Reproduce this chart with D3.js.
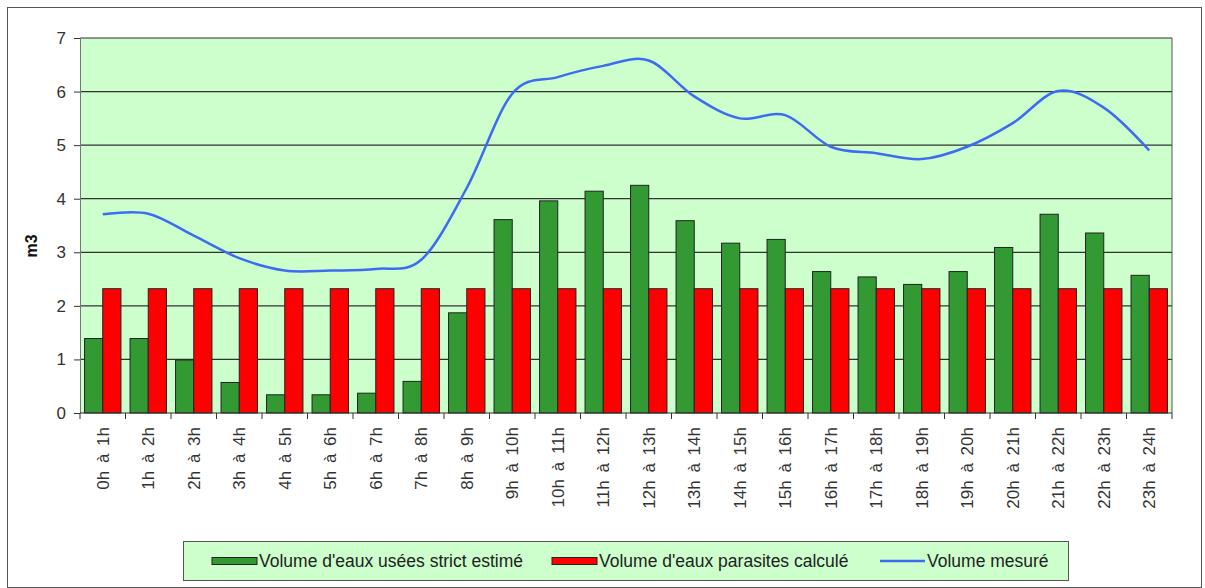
<!DOCTYPE html>
<html>
<head>
<meta charset="utf-8">
<script src="https://cdn.jsdelivr.net/npm/d3@7"></script>
<style>
  body { margin: 0; background: #fff; }
  svg { display: block; font-family: "Liberation Sans", Arial, sans-serif; }
</style>
</head>
<body>
<div id="vis"></div>
<script>
// hourly slots
const hours = ["0h à 1h","1h à 2h","2h à 3h","3h à 4h","4h à 5h","5h à 6h","6h à 7h","7h à 8h",
  "8h à 9h","9h à 10h","10h à 11h","11h à 12h","12h à 13h","13h à 14h","14h à 15h","15h à 16h",
  "16h à 17h","17h à 18h","18h à 19h","19h à 20h","20h à 21h","21h à 22h","22h à 23h","23h à 24h"];

// Volume d'eaux usées strict estimé
const usees = [1.39,1.39,0.99,0.57,0.34,0.34,0.37,0.59,1.87,3.61,3.96,4.14,4.25,3.59,3.17,3.24,
  2.64,2.54,2.40,2.64,3.09,3.71,3.36,2.57];
// Volume d'eaux parasites calculé
const parasites = [2.32,2.32,2.32,2.32,2.32,2.32,2.32,2.32,2.32,2.32,2.32,2.32,2.32,2.32,2.32,2.32,
  2.32,2.32,2.32,2.32,2.32,2.32,2.32,2.32];
// Volume mesuré
const mesure = [3.71,3.72,3.31,2.89,2.66,2.66,2.69,2.86,4.2,5.96,6.27,6.48,6.58,5.91,5.5,5.56,
  4.97,4.85,4.74,4.97,5.41,6.01,5.7,4.9];

const yTicks = [0,1,2,3,4,5,6,7];

const W = 1205, H = 588;
const margin = {top: 38, left: 80, right: 33, bottom: 175};
const width = W - margin.left - margin.right,
      height = H - margin.top - margin.bottom;

const root = d3.select("#vis").append("svg")
  .attr("width", W).attr("height", H);

// outer frame
root.append("rect")
  .attr("x", 7.5).attr("y", 7.5)
  .attr("width", 1194).attr("height", 580)
  .attr("fill", "#fff").attr("stroke", "#555").attr("stroke-width", 1);

const svg = root.append("g")
  .attr("transform", `translate(${margin.left},${margin.top})`);

const x = d3.scaleBand().domain(hours).range([0, width]).paddingInner(0).paddingOuter(0);
const x1 = d3.scaleBand().domain(["u","p"]).range([0, x.bandwidth()]).paddingInner(0).paddingOuter(0.25);
const y = d3.scaleLinear().domain([0, 7]).range([height, 0]);

// plot background
svg.append("rect")
  .attr("width", width).attr("height", height)
  .attr("fill", "#ccffcc");

// gridlines
svg.append("g")
  .selectAll("line")
  .data(yTicks.filter(d => d > 0))
  .join("line")
    .attr("x1", 0).attr("x2", width)
    .attr("y1", d => y(d)).attr("y2", d => y(d))
    .attr("stroke", "#333").attr("stroke-width", 1.2);

// right border
svg.append("line")
  .attr("x1", width).attr("x2", width)
  .attr("y1", 0).attr("y2", height)
  .attr("stroke", "#555");

// bars
const groups = svg.append("g")
  .selectAll("g")
  .data(hours)
  .join("g")
    .attr("transform", d => `translate(${x(d)},0)`);

groups.append("rect")
  .attr("x", x1("u"))
  .attr("y", (d, i) => y(usees[i]))
  .attr("width", x1.bandwidth())
  .attr("height", (d, i) => height - y(usees[i]))
  .attr("fill", "#339933").attr("stroke", "#222").attr("stroke-width", 1);

groups.append("rect")
  .attr("x", x1("p"))
  .attr("y", (d, i) => y(parasites[i]))
  .attr("width", x1.bandwidth())
  .attr("height", (d, i) => height - y(parasites[i]))
  .attr("fill", "#ff0000").attr("stroke", "#222").attr("stroke-width", 1);

// measured line, smoothed like the spreadsheet
svg.append("path")
  .datum(mesure)
  .attr("fill", "none")
  .attr("stroke", "#3d6cf0")
  .attr("stroke-width", 2.5)
  .attr("d", d3.line()
    .x((d, i) => x(hours[i]) + x.bandwidth() / 2)
    .y(d => y(d))
    .curve(d3.curveCardinal.tension(0)));

// y axis
const yAxis = svg.append("g")
  .call(d3.axisLeft(y).tickValues(yTicks).tickSize(6).tickPadding(8).tickFormat(d3.format("d")));
yAxis.select(".domain").attr("stroke", "#777");
yAxis.selectAll(".tick line").attr("stroke", "#333");
yAxis.selectAll("text").attr("fill", "#333").style("font-size", "17px")
  .style("font-family", "'Liberation Sans', Arial, sans-serif");

// x axis: ticks on category boundaries
const xAxis = svg.append("g")
  .attr("transform", `translate(0,${height})`);
xAxis.append("line")
  .attr("x1", 0).attr("x2", width)
  .attr("stroke", "#333").attr("stroke-width", 1.2);
xAxis.selectAll("line.tk")
  .data(d3.range(hours.length + 1))
  .join("line")
    .attr("class", "tk")
    .attr("x1", i => i * x.step()).attr("x2", i => i * x.step())
    .attr("y1", 0).attr("y2", 6)
    .attr("stroke", "#333");
xAxis.selectAll("text")
  .data(hours)
  .join("text")
    .attr("transform", d => `translate(${x(d) + x.bandwidth() / 2 + 6},14) rotate(-90)`)
    .attr("text-anchor", "end")
    .attr("fill", "#333")
    .style("font-size", "17px")
    .style("word-spacing", "3px")
    .text(d => d);

// y label
root.append("text")
  .attr("transform", "translate(37,246) rotate(-90)")
  .attr("text-anchor", "middle")
  .attr("fill", "#111")
  .style("font-size", "16px")
  .style("font-weight", "bold")
  .text("m3");

// legend
const legend = root.append("g");
legend.append("rect")
  .attr("x", 183.5).attr("y", 541.5)
  .attr("width", 885).attr("height", 39)
  .attr("fill", "#ccffcc").attr("stroke", "#555");

const legendItems = [
  {label: "Volume d'eaux usées strict estimé", type: "bar", color: "#339933", x: 212},
  {label: "Volume d'eaux parasites calculé", type: "bar", color: "#ff0000", x: 552},
  {label: "Volume mesuré", type: "line", color: "#3d6cf0", x: 880}
];
legendItems.forEach(it => {
  if (it.type === "bar") {
    legend.append("rect")
      .attr("x", it.x).attr("y", 557.5)
      .attr("width", 45).attr("height", 7)
      .attr("fill", it.color).attr("stroke", "#222");
  } else {
    legend.append("line")
      .attr("x1", it.x).attr("x2", it.x + 45)
      .attr("y1", 561).attr("y2", 561)
      .attr("stroke", it.color).attr("stroke-width", 2.5);
  }
  legend.append("text")
    .attr("x", it.x + 47).attr("y", 561)
    .attr("dy", "0.35em")
    .attr("fill", "#222")
    .style("font-size", "17.5px")
    .text(it.label);
});
</script>
</body>
</html>
